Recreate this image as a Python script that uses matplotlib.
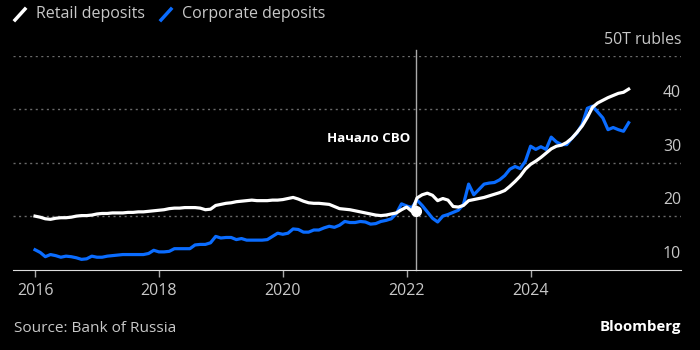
import matplotlib.pyplot as plt
import numpy as np

# monthly deposits, Jan 2016 - Aug 2025
retail = [
    20.0, 19.8, 19.5, 19.4, 19.6, 19.7, 19.7, 19.8, 20.0, 20.1, 20.1, 20.2,  # 2016
    20.4, 20.5, 20.5, 20.6, 20.6, 20.6, 20.7, 20.7, 20.8, 20.8, 20.9, 21.0,  # 2017
    21.1, 21.2, 21.4, 21.5, 21.5, 21.6, 21.6, 21.6, 21.5, 21.2, 21.3, 22.0,  # 2018
    22.2, 22.4, 22.5, 22.7, 22.8, 22.9, 23.0, 22.9, 22.9, 22.9, 23.0, 23.0,  # 2019
    23.1, 23.3, 23.5, 23.2, 22.8, 22.5, 22.4, 22.4, 22.3, 22.2, 21.8, 21.4,  # 2020
    21.3, 21.2, 21.0, 20.8, 20.6, 20.4, 20.2, 20.1, 20.2, 20.4, 20.6, 21.2,  # 2021
    21.7, 20.9, 23.4, 24.0, 24.3, 23.9, 22.9, 23.3, 23.0, 21.8, 21.7, 22.0,  # 2022
    22.9, 23.1, 23.3, 23.5, 23.8, 24.1, 24.4, 24.8, 25.6, 26.5, 27.5, 28.8,  # 2023
    29.7, 30.3, 31.0, 31.8, 32.6, 33.1, 33.3, 33.8, 34.6, 35.7, 36.9, 38.5,  # 2024
    40.4, 41.2, 41.7, 42.2, 42.6, 43.0, 43.2, 43.8,                          # 2025
]
corporate = [
    13.7, 13.2, 12.4, 12.8, 12.6, 12.3, 12.5, 12.4, 12.2, 11.9, 12.0, 12.5,
    12.3, 12.3, 12.5, 12.6, 12.7, 12.8, 12.8, 12.8, 12.8, 12.8, 13.0, 13.6,
    13.3, 13.3, 13.4, 13.9, 13.9, 13.9, 13.9, 14.6, 14.7, 14.7, 15.0, 16.2,
    15.9, 16.0, 16.0, 15.6, 15.8, 15.5, 15.5, 15.5, 15.5, 15.6, 16.2, 16.8,
    16.6, 16.8, 17.6, 17.5, 17.0, 17.0, 17.4, 17.4, 17.8, 18.1, 17.9, 18.3,
    19.0, 18.8, 18.8, 19.0, 18.9, 18.5, 18.6, 19.0, 19.2, 19.5, 20.5, 22.3,
    21.9, 21.6, 23.0, 22.0, 20.8, 19.6, 18.9, 20.0, 20.3, 20.7, 21.1, 22.2,
    26.0, 24.0, 25.0, 26.0, 26.2, 26.3, 26.8, 27.6, 28.8, 29.3, 28.9, 30.3,
    33.1, 32.5, 33.0, 32.5, 34.8, 33.9, 33.4, 33.4, 34.6, 35.6, 37.2, 40.2,
    40.6, 39.5, 38.4, 36.2, 36.6, 36.2, 35.9, 37.5,
]
years = 2016 + np.arange(len(retail)) / 12
svo_idx = 73  # Feb 2022
svo_date = 2022 + 55 / 365  # 24 Feb 2022
yticks = [10, 20, 30, 40, 50]
ylabels = ['10', '20', '30', '40', '50T rubles']
xticks = [2016, 2018, 2020, 2022, 2024]

plt.rcParams['font.family'] = ['Open Sans', 'DejaVu Sans']
grey = '#c8c8c8'
blue = '#0a6cff'

fig = plt.figure(figsize=(7, 3.5), dpi=100, facecolor='black')
ax = fig.add_axes([0.0186, 0.23, 0.9544, 0.61], facecolor='black')

ax.plot(years, corporate, color=blue, lw=2.3, solid_joinstyle='round')
ax.plot(years, retail, color='white', lw=2.3, solid_joinstyle='round')

# start of the war marker
ax.axvline(svo_date, ymin=0, ymax=1.03, color='#aaaaaa', lw=1, clip_on=False, zorder=1)
ax.plot(svo_date, retail[svo_idx], 'o', color='white', ms=7, zorder=5)
ax.text(svo_date - 0.1, 34.5, 'Начало СВО', color='white', fontsize=9.5,
        fontweight='bold', ha='right', va='center')

ax.set_xlim(2015.645, 2026.43)
ax.set_ylim(10, 50)
for v in yticks[1:]:
    ax.axhline(v, color='#6a6a6a', lw=1, ls=(0, (1.5, 2.5)), zorder=0)
for v, lab in zip(yticks, ylabels):
    ax.annotate(lab, xy=(1.0, v), xycoords=('axes fraction', 'data'),
                xytext=(0, 11.5), textcoords='offset points',
                ha='right', va='center', color=grey, fontsize=11.4)

ax.set_yticks([])
ax.set_xticks(xticks)
ax.set_xticklabels([str(x) for x in xticks])
ax.tick_params(axis='x', colors='#aaaaaa', labelcolor=grey, labelsize=11.5,
               length=5, width=1, pad=5)
for s in ['top', 'right', 'left']:
    ax.spines[s].set_visible(False)
ax.spines['bottom'].set_color('#dddddd')

# legend with slash markers
fig.add_artist(plt.Line2D([15/700, 25/700], [1-20/350, 1-9/350], color='white', lw=2.5))
fig.text(36/700, 1-14/350, 'Retail deposits', color=grey, fontsize=11.5, va='center')
fig.add_artist(plt.Line2D([161/700, 171/700], [1-20/350, 1-9/350], color=blue, lw=2.5))
fig.text(182/700, 1-14/350, 'Corporate deposits', color=grey, fontsize=11.5, va='center')

fig.text(14/700, 1-328/350, 'Source: Bank of Russia', color=grey, fontsize=11.1, va='center')
fig.text(681/700, 1-327/350, 'Bloomberg', color='white', fontsize=10.8,
         fontweight='bold', ha='right', va='center')

fig.savefig('out.png', dpi=100, facecolor='black')
